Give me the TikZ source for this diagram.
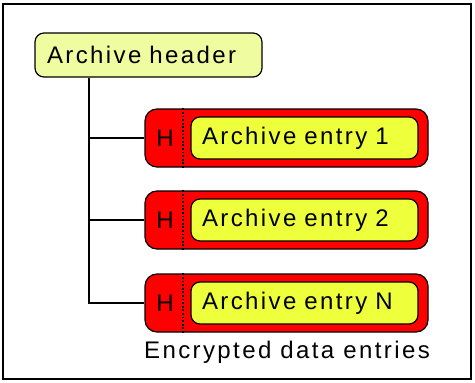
\documentclass[tikz,border=0pt]{standalone}
\usepackage{fontspec}
\setmainfont{Liberation Sans}[LetterSpace=10]
\definecolor{hdrYellow}{RGB}{240,252,160}
\definecolor{entYellow}{RGB}{238,255,60}
\definecolor{entRed}{RGB}{255,0,0}
\begin{document}
\begin{tikzpicture}[x=1pt,y=-1pt,
  frame/.style={draw, line width=1.4pt},
  txt/.style={font=\fontsize{24}{28}\selectfont},
  hdrbox/.style={draw, line width=1.2pt, rounded corners=9pt, fill=hdrYellow,
    minimum height=44pt, inner xsep=12pt, inner ysep=0pt, text width=203pt, align=left, txt},
  outerbox/.style={draw, line width=1.2pt, rounded corners=12pt, fill=entRed,
    minimum width=283pt, minimum height=58pt, inner sep=0pt},
  innerbox/.style={draw, line width=1.2pt, rounded corners=9pt, fill=entYellow,
    minimum height=42pt, inner xsep=11pt, inner ysep=0pt, text width=205pt, align=left, txt},
  hlabel/.style={inner sep=0pt, txt},
  sep/.style={line width=1.6pt, dash pattern=on 1.8pt off 1.8pt},
  conn/.style={line width=1.2pt}
]
\useasboundingbox (0,0) rectangle (475,383);
\draw[frame] (3,4) rectangle (471,379);

\node[hdrbox] (hdr) at (148.5,55) {Archive header};

\foreach \i/\y/\t in {1/138/Archive entry 1, 2/220/Archive entry 2, 3/303/Archive entry N}{
  \node[outerbox] (e\i) at (286.5,\y) {};
  \node[innerbox] (in\i) at (304.5,\y) {\t};
  \node[hlabel] (h\i) at (165,\y) {H};
  \coordinate (s\i) at (183,\y);
  \draw[sep] (s\i |- e\i.north) -- (s\i |- e\i.south);
}

\coordinate (trunk) at (89,0);
\draw[conn] (trunk |- hdr.south) -- (trunk |- e3.west) -- (e3.west);
\draw[conn] (trunk |- e1.west) -- (e1.west);
\draw[conn] (trunk |- e2.west) -- (e2.west);

\node[txt, anchor=center] (cap) at (287,352) {Encrypted data entries};
\end{tikzpicture}
\end{document}
